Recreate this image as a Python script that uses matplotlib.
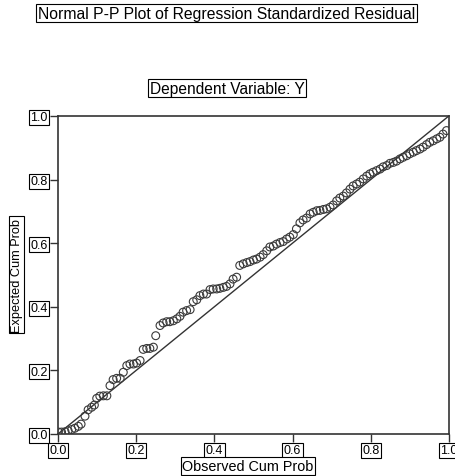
import matplotlib
matplotlib.use("Agg")
import matplotlib.pyplot as plt

# Observed cumulative probability (x) and expected cumulative probability (y)
observed = [0.001, 0.009, 0.018, 0.026, 0.035, 0.043, 0.052, 0.059, 0.069, 0.077,
            0.086, 0.093, 0.099, 0.107, 0.116, 0.125, 0.133, 0.141, 0.150, 0.159,
            0.167, 0.176, 0.184, 0.193, 0.201, 0.210, 0.218, 0.227, 0.235, 0.244,
            0.250, 0.261, 0.269, 0.278, 0.286, 0.295, 0.304, 0.312, 0.320, 0.329,
            0.338, 0.346, 0.355, 0.363, 0.372, 0.380, 0.389, 0.397, 0.406, 0.414,
            0.423, 0.431, 0.440, 0.448, 0.457, 0.465, 0.474, 0.483, 0.491, 0.500,
            0.508, 0.517, 0.525, 0.534, 0.542, 0.551, 0.559, 0.568, 0.576, 0.585,
            0.593, 0.602, 0.610, 0.619, 0.627, 0.636, 0.645, 0.653, 0.662, 0.670,
            0.679, 0.687, 0.696, 0.704, 0.713, 0.721, 0.730, 0.738, 0.747, 0.755,
            0.764, 0.772, 0.781, 0.790, 0.798, 0.806, 0.815, 0.824, 0.832, 0.841,
            0.849, 0.858, 0.866, 0.875, 0.883, 0.892, 0.900, 0.909, 0.917, 0.926,
            0.934, 0.943, 0.951, 0.960, 0.969, 0.977, 0.985, 0.994]
expected = [0.006, 0.006, 0.007, 0.010, 0.014, 0.018, 0.024, 0.031, 0.056, 0.076,
            0.084, 0.091, 0.112, 0.119, 0.120, 0.120, 0.152, 0.171, 0.175, 0.175,
            0.194, 0.215, 0.220, 0.220, 0.223, 0.231, 0.266, 0.269, 0.269, 0.273,
            0.309, 0.341, 0.349, 0.353, 0.353, 0.356, 0.362, 0.370, 0.383, 0.388,
            0.391, 0.416, 0.422, 0.435, 0.440, 0.440, 0.454, 0.456, 0.456, 0.458,
            0.461, 0.464, 0.472, 0.487, 0.493, 0.530, 0.535, 0.539, 0.542, 0.547,
            0.550, 0.556, 0.564, 0.576, 0.588, 0.591, 0.597, 0.602, 0.605, 0.613,
            0.619, 0.627, 0.645, 0.664, 0.673, 0.679, 0.692, 0.697, 0.702, 0.703,
            0.706, 0.708, 0.713, 0.720, 0.733, 0.742, 0.748, 0.758, 0.770, 0.780,
            0.786, 0.792, 0.802, 0.811, 0.818, 0.823, 0.828, 0.833, 0.840, 0.844,
            0.851, 0.854, 0.858, 0.865, 0.870, 0.875, 0.881, 0.886, 0.891, 0.896,
            0.902, 0.910, 0.917, 0.922, 0.928, 0.933, 0.943, 0.954]
ticks = [0.0, 0.2, 0.4, 0.6, 0.8, 1.0]
tick_labels = ["0.0", "0.2", "0.4", "0.6", "0.8", "1.0"]

plt.rcParams['font.family'] = ['Liberation Sans', 'DejaVu Sans']
box = dict(boxstyle='square,pad=0.12', fc='white', ec='black', lw=0.8)
ink = '#333333'

fig = plt.figure(figsize=(4.55, 4.77), dpi=100)
ax = fig.add_axes([0.1275, 0.0881, 0.859, 0.6667])

# диагональ
ax.plot([0, 1], [0, 1], color=ink, lw=1.0, zorder=2)
ax.scatter(observed, expected, s=32, facecolors='none', edgecolors='#3a3a3a',
           linewidths=0.8, zorder=3)

ax.set_xlim(0, 1)
ax.set_ylim(0, 1)
ax.set_xticks(ticks)
ax.set_yticks(ticks)
ax.set_xticklabels(tick_labels, fontsize=9)
ax.set_yticklabels(tick_labels, fontsize=9)
ax.tick_params(direction='out', length=6, width=1, color=ink, pad=1.5)
for lbl in ax.get_xticklabels() + ax.get_yticklabels():
    lbl.set_bbox(box)
for sp in ax.spines.values():
    sp.set_color(ink)
    sp.set_linewidth(1.2)

fig.text(0.498, 0.9706, "Normal P-P Plot of Regression Standardized Residual",
         ha='center', va='center', fontsize=11.3, bbox=box)
fig.text(0.499, 0.8134, "Dependent Variable: Y", ha='center', va='center',
         fontsize=11.2, bbox=box)
fig.text(0.545, 0.021, "Observed Cum Prob", ha='center', va='center',
         fontsize=10.4, bbox=box)
fig.text(0.037, 0.4224, "Expected Cum Prob", ha='center', va='center',
         rotation=90, fontsize=9.2, bbox=box)

fig.savefig("out.png", dpi=100, facecolor='white')
